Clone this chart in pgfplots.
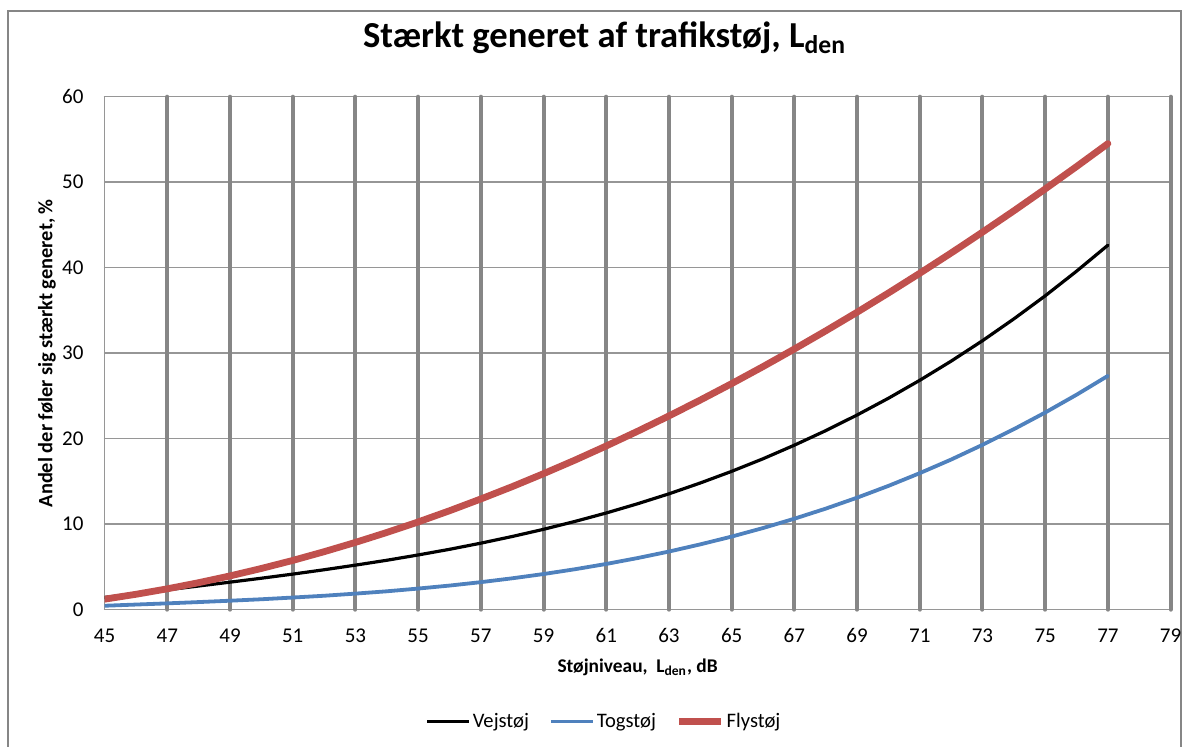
\documentclass[border=0pt]{standalone}
\usepackage{fontspec}
\setmainfont{Carlito}
\usepackage{pgfplots}
\pgfplotsset{compat=1.18}
\definecolor{gridgray}{RGB}{134,134,134}
\definecolor{hgray}{RGB}{150,150,150}
\definecolor{xred}{RGB}{192,80,77}
\definecolor{xblue}{RGB}{79,129,189}
\pgfplotstableread{
L vej tog fly
45 1.43 0.46 1.23
46 1.88 0.60 1.80
47 2.32 0.74 2.44
48 2.77 0.89 3.16
49 3.22 1.05 3.95
50 3.68 1.22 4.82
51 4.16 1.42 5.76
52 4.67 1.63 6.78
53 5.21 1.88 7.87
54 5.78 2.15 9.03
55 6.40 2.47 10.26
56 7.06 2.82 11.57
57 7.78 3.22 12.95
58 8.56 3.67 14.39
59 9.40 4.17 15.91
60 10.32 4.73 17.49
61 11.31 5.35 19.15
62 12.39 6.04 20.87
63 13.55 6.80 22.66
64 14.82 7.64 24.52
65 16.18 8.55 26.44
66 17.65 9.55 28.43
67 19.24 10.64 30.49
68 20.94 11.82 32.61
69 22.77 13.10 34.79
70 24.73 14.48 37.04
71 26.83 15.97 39.35
72 29.07 17.56 41.72
73 31.46 19.28 44.16
74 34.01 21.11 46.65
75 36.71 23.06 49.21
76 39.59 25.14 51.83
77 42.63 27.35 54.51
}\datatable
\begin{document}
\begin{tikzpicture}
\useasboundingbox (0,0) rectangle (594.5pt,373.5pt);
\draw[gridgray, line width=0.6pt] (4pt,0) -- (4pt,368pt) -- (590.5pt,368pt) -- (590.5pt,0);
\begin{axis}[
  at={(52.3pt,68.65pt)}, anchor=south west,
  scale only axis, width=533pt, height=256.5pt,
  xmin=45, xmax=79, ymin=0, ymax=60,
  xtick={45,47,...,79}, ytick={0,10,...,60},
  extra x ticks={47,49,...,79}, extra x tick labels={},
  extra x tick style={grid=major, major grid style={gridgray, line width=2pt}},
  ymajorgrids, major grid style={hgray, line width=0.7pt},
  major tick length=0pt,
  axis line style={hgray, line width=0.7pt},
  /pgf/number format/assume math mode=true,
  tick label style={font=\fontsize{10.5}{12}\selectfont, black},
  xticklabel style={yshift=-6pt},
  yticklabel style={xshift=-7pt},
  title={\textbf{Stærkt generet af trafikstøj, L\textsubscript{den}}},
  title style={font=\fontsize{18.3}{21}\selectfont, anchor=center, at={(axis description cs:0.469,1)}, yshift=23.5pt},
  xlabel={\textbf{Støjniveau,\ \ L\textsubscript{den}, dB}},
  xlabel style={font=\fontsize{9.7}{11}\selectfont, anchor=center, at={(axis description cs:0.5,0)}, yshift=-28.7pt},
  ylabel={\textbf{Andel der føler sig stærkt generet, \%}},
  ylabel style={font=\fontsize{10.2}{11}\selectfont, anchor=center, at={(axis description cs:0,0.5)}, yshift=28.8pt},
  legend style={at={(axis description cs:0.4685,-0.218)}, anchor=center, draw=none, fill=none,
    legend columns=3, font=\fontsize{10.3}{11}\selectfont,
    /tikz/every even column/.append style={column sep=9pt},
    /tikz/every odd column/.append style={column sep=0pt},
    nodes={inner sep=1pt}},
  legend image code/.code={\draw[#1] (0pt,0pt) -- (21pt,0pt);},
  line join=round, line cap=round,
]
\addplot[black, line width=1.6pt, no marks] table[x=L, y=vej] {\datatable};
\addlegendentry{Vejstøj}
\addplot[xblue, line width=1.9pt, no marks] table[x=L, y=tog] {\datatable};
\addlegendentry{Togstøj}
\addplot[xred, line width=3.4pt, no marks] table[x=L, y=fly] {\datatable};
\addlegendentry{Flystøj}
\end{axis}
\end{tikzpicture}
\end{document}
